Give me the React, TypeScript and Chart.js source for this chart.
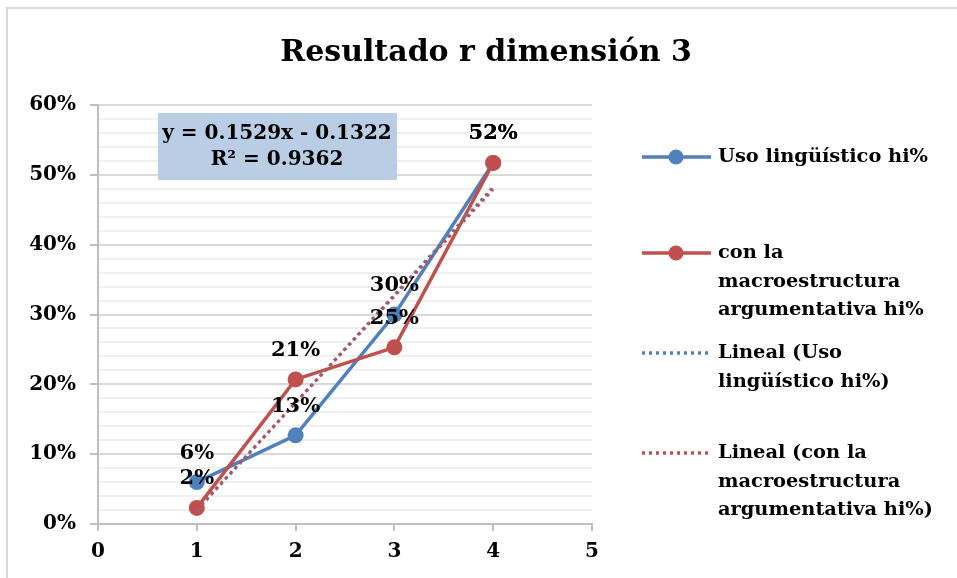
import React, { useEffect, useRef } from "react";
import { Chart, registerables } from "chart.js";

Chart.register(...registerables);

const TITLE = "Resultado r dimensión 3";
const X_VALUES = [1, 2, 3, 4];
const USO = [0.06, 0.127, 0.3, 0.517];
const MACRO = [0.023, 0.207, 0.253, 0.517];
const SERIES_NAMES = ["Uso lingüístico hi%", "con la macroestructura argumentativa hi%"];
const LEGEND_LINES = [
  ["Uso lingüístico hi%"],
  ["con la", "macroestructura", "argumentativa hi%"],
  ["Lineal (Uso", "lingüístico hi%)"],
  ["Lineal (con la", "macroestructura", "argumentativa hi%)"],
];
const EQUATION = ["y = 0.1529x - 0.1322", "R² = 0.9362"];

const BLUE = "#4f81bd";
const RED = "#c0504d";
const FONT = "'DejaVu Serif', serif";

function linearFit(xs: number[], ys: number[]) {
  const n = xs.length;
  const mx = xs.reduce((a, b) => a + b, 0) / n;
  const my = ys.reduce((a, b) => a + b, 0) / n;
  let sxy = 0, sxx = 0;
  for (let i = 0; i < n; i++) {
    sxy += (xs[i] - mx) * (ys[i] - my);
    sxx += (xs[i] - mx) * (xs[i] - mx);
  }
  const slope = sxy / sxx;
  const intercept = my - slope * mx;
  const x0 = Math.min(...xs), x1 = Math.max(...xs);
  return [
    { x: x0, y: slope * x0 + intercept },
    { x: x1, y: slope * x1 + intercept },
  ];
}

const decorPlugin = {
  id: "decor",
  beforeDraw(chart: any) {
    const ctx = chart.ctx;
    ctx.save();
    ctx.strokeStyle = "#d9d9d9";
    ctx.lineWidth = 2;
    ctx.beginPath();
    ctx.moveTo(7, 578);
    ctx.lineTo(7, 8);
    ctx.lineTo(957, 8);
    ctx.stroke();
    ctx.restore();
  },
  afterDatasetsDraw(chart: any) {
    const ctx = chart.ctx;
    const area = chart.chartArea;
    ctx.save();
    // title
    ctx.fillStyle = "#000";
    ctx.textAlign = "center";
    ctx.textBaseline = "middle";
    ctx.font = `bold 30px ${FONT}`;
    ctx.fillText(TITLE, 486, 53);

    // data labels
    ctx.font = `bold 21px ${FONT}`;
    [0, 1].forEach((di) => {
      const meta = chart.getDatasetMeta(di);
      const vals = di === 0 ? USO : MACRO;
      meta.data.forEach((pt: any, i: number) => {
        ctx.fillText(Math.round(vals[i] * 100) + "%", pt.x, pt.y - 29);
      });
    });

    // equation box
    const bx = area.left + 60, by = area.top + 8;
    ctx.fillStyle = "#b9cde5";
    ctx.fillRect(bx, by, 239, 67);
    ctx.fillStyle = "#000";
    ctx.font = `bold 20px ${FONT}`;
    ctx.fillText(EQUATION[0], bx + 119, by + 21);
    ctx.fillText(EQUATION[1], bx + 119, by + 47);

    // legend
    const tops = [157, 253, 353, 453];
    const styles = [
      { c: BLUE, dot: false, marker: true },
      { c: RED, dot: false, marker: true },
      { c: BLUE, dot: true, marker: false },
      { c: RED, dot: true, marker: false },
    ];
    ctx.textAlign = "left";
    LEGEND_LINES.forEach((lines, i) => {
      const y = tops[i];
      const s = styles[i];
      ctx.strokeStyle = s.c;
      ctx.lineWidth = 3.5;
      ctx.setLineDash(s.dot ? [3, 4] : []);
      ctx.beginPath();
      ctx.moveTo(642, y);
      ctx.lineTo(711, y);
      ctx.stroke();
      ctx.setLineDash([]);
      if (s.marker) {
        ctx.fillStyle = s.c;
        ctx.beginPath();
        ctx.arc(676, y, 7.5, 0, Math.PI * 2);
        ctx.fill();
      }
      ctx.fillStyle = "#000";
      ctx.font = `bold 19.4px ${FONT}`;
      lines.forEach((t, j) => ctx.fillText(t, 718, y + j * 28.5));
    });
    ctx.restore();
  },
};

export default function App() {
  const ref = useRef<HTMLCanvasElement | null>(null);
  useEffect(() => {
    if (!ref.current) return;
    const trendUso = linearFit(X_VALUES, USO);
    const trendMacro = linearFit(X_VALUES, MACRO);
    const chart = new Chart(ref.current, {
      type: "scatter",
      data: {
        datasets: [
          {
            label: SERIES_NAMES[0],
            data: X_VALUES.map((x, i) => ({ x, y: USO[i] })),
            showLine: true,
            borderColor: BLUE,
            backgroundColor: BLUE,
            borderWidth: 3.5,
            pointRadius: 8,
            pointBorderWidth: 0,
            order: 4,
          },
          {
            label: SERIES_NAMES[1],
            data: X_VALUES.map((x, i) => ({ x, y: MACRO[i] })),
            showLine: true,
            borderColor: RED,
            backgroundColor: RED,
            borderWidth: 3.5,
            pointRadius: 8,
            pointBorderWidth: 0,
            order: 3,
          },
          {
            label: "Lineal (" + SERIES_NAMES[0] + ")",
            data: trendUso,
            showLine: true,
            borderColor: BLUE,
            borderWidth: 3,
            borderDash: [3, 4],
            pointRadius: 0,
            order: 2,
          },
          {
            label: "Lineal (" + SERIES_NAMES[1] + ")",
            data: trendMacro,
            showLine: true,
            borderColor: RED,
            borderWidth: 3,
            borderDash: [3, 4],
            pointRadius: 0,
            order: 1,
          },
        ] as any,
      },
      options: {
        responsive: false,
        animation: false,
        layout: { padding: { left: 0, top: 105, right: 365, bottom: 0 } },
        plugins: {
          legend: { display: false },
          tooltip: { enabled: false },
          title: { display: false },
        },
        scales: {
          x: {
            type: "linear",
            min: 0,
            max: 5,
            afterFit: (s: any) => { s.height = 54; },
            border: { color: "#bfbfbf", width: 2 },
            grid: { drawOnChartArea: false, drawTicks: true, tickLength: 7, tickColor: "#bfbfbf", lineWidth: 2 },
            ticks: {
              stepSize: 1,
              padding: 9,
              color: "#000",
              font: { family: FONT, size: 20, weight: "bold" },
            },
          },
          y: {
            min: 0,
            max: 0.6,
            afterFit: (s: any) => { s.width = 98; },
            border: { color: "#bfbfbf", width: 2 },
            grid: {
              color: (c: any) => (Math.round(c.tick.value * 100) % 10 === 0 ? "#d9d9d9" : "#f0f0f0"),
              lineWidth: 2,
              tickLength: 8,
              tickColor: (c: any) => (Math.round(c.tick.value * 100) % 10 === 0 ? "#bfbfbf" : "rgba(0,0,0,0)"),
            },
            ticks: {
              stepSize: 0.02,
              autoSkip: false,
              padding: 14,
              color: "#000",
              font: { family: FONT, size: 20, weight: "bold" },
              callback: (v: any) => {
                const p = Math.round(Number(v) * 100);
                return p % 10 === 0 ? p + "%" : "";
              },
            },
          },
        },
      } as any,
      plugins: [decorPlugin],
    });
    return () => chart.destroy();
  }, []);
  return (
    <div style={{ position: "absolute", left: 0, top: 0, width: 957, height: 578, background: "#fff" }}>
      <canvas ref={ref} width={957} height={578} style={{ width: 957, height: 578, display: "block" }} />
    </div>
  );
}
